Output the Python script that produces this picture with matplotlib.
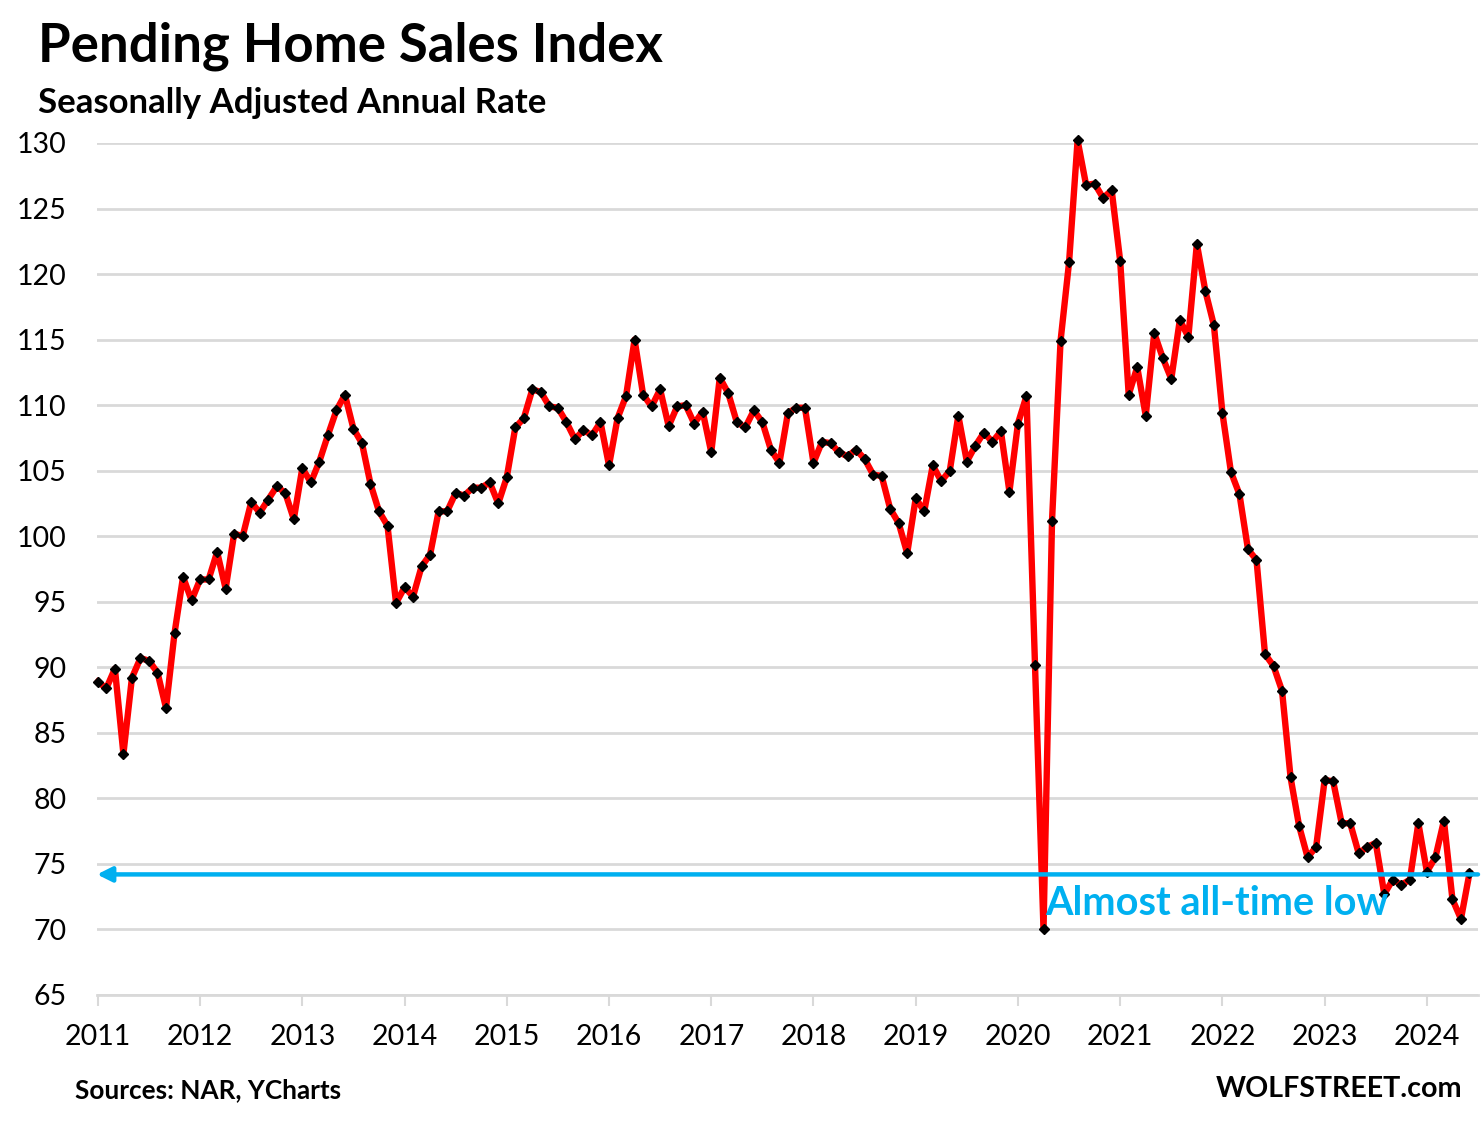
################################################################################
# Pending Home Sales Index chart
################################################################################

import numpy as np
import pandas as pd
import matplotlib.pyplot as plt

# Monthly index values, Jan 2011 - Jun 2024
y2011 = [88.9, 88.4, 89.9, 83.4, 89.2, 90.7, 90.5, 89.6, 86.9, 92.6, 96.9, 95.1]
y2012 = [96.7, 96.7, 98.8, 96.0, 100.2, 100.0, 102.6, 101.8, 102.8, 103.8, 103.3, 101.3]
y2013 = [105.2, 104.1, 105.7, 107.7, 109.6, 110.8, 108.2, 107.1, 104.0, 101.9, 100.8, 94.9]
y2014 = [96.1, 95.4, 97.7, 98.6, 101.9, 101.9, 103.3, 103.1, 103.7, 103.7, 104.1, 102.5]
y2015 = [104.5, 108.3, 109.0, 111.2, 111.0, 109.9, 109.8, 108.7, 107.4, 108.1, 107.7, 108.7]
y2016 = [105.4, 109.0, 110.7, 115.0, 110.8, 109.9, 111.2, 108.4, 109.9, 110.0, 108.6, 109.5]
y2017 = [106.4, 112.1, 110.9, 108.7, 108.3, 109.6, 108.7, 106.6, 105.6, 109.4, 109.8, 109.8]
y2018 = [105.6, 107.2, 107.1, 106.4, 106.1, 106.6, 105.9, 104.7, 104.6, 102.1, 101.0, 98.7]
y2019 = [102.9, 101.9, 105.4, 104.2, 105.0, 109.2, 105.7, 106.9, 107.9, 107.2, 108.0, 103.4]
y2020 = [108.6, 110.7, 90.2, 70.0, 101.2, 114.9, 120.9, 130.2, 126.8, 126.9, 125.8, 126.4]
y2021 = [121.0, 110.8, 112.9, 109.2, 115.5, 113.6, 112.0, 116.5, 115.2, 122.3, 118.7, 116.1]
y2022 = [109.4, 104.9, 103.2, 99.0, 98.2, 91.0, 90.1, 88.2, 81.6, 77.9, 75.5, 76.3]
y2023 = [81.4, 81.3, 78.1, 78.1, 75.8, 76.3, 76.6, 72.7, 73.8, 73.4, 73.8, 78.1]
y2024 = [74.4, 75.5, 78.3, 72.3, 70.8, 74.3]

years = list(range(2011, 2025))
low_level = 74.2

index_values = (y2011 + y2012 + y2013 + y2014 + y2015 + y2016 + y2017 + y2018
                + y2019 + y2020 + y2021 + y2022 + y2023 + y2024)
dates = pd.date_range('2011-01-01', periods=len(index_values), freq='MS')
months = np.arange(len(dates))  # month number since Jan 2011

# Fonts (Lato is close to Calibri)
plt.rcParams['font.family'] = ['Lato', 'DejaVu Sans']

fig = plt.figure(figsize=(14.82, 11.23), dpi=100)
ax = fig.add_axes([97 / 1482, 128 / 1123, 1381 / 1482, 852 / 1123])

# Grid and axes styling
grid_color = '#D9D9D9'
ax.set_ylim(65, 130)
ax.set_xlim(-0.1, 162)
ax.set_yticks(range(65, 131, 5))
ax.yaxis.grid(True, color=grid_color, linewidth=2)
ax.set_axisbelow(True)
for side in ['top', 'right', 'left']:
    ax.spines[side].set_visible(False)
ax.spines['bottom'].set_color(grid_color)
ax.spines['bottom'].set_linewidth(2)
ax.tick_params(axis='y', length=0, pad=22, labelsize=20.5)
ax.set_xticks([12 * (yr - 2011) for yr in years])
ax.set_xticklabels([str(yr) for yr in years])
ax.tick_params(axis='x', length=8, width=1.5, color=grid_color, pad=13, labelsize=20.5)

# Main series
ax.plot(months, index_values, color='red', linewidth=4.6, zorder=3,
        marker='D', markersize=5.5, markerfacecolor='black', markeredgecolor='black',
        clip_on=False)

# "Almost all-time low" arrow
blue = '#00B0F0'
ax.annotate('', xy=(-0.1, low_level), xytext=(162, low_level),
            arrowprops=dict(arrowstyle='-|>', color=blue, lw=3.2,
                            mutation_scale=22, shrinkA=0, shrinkB=0),
            zorder=4, annotation_clip=False)
ax.text(111.2, 72.0, 'Almost all-time low', color=blue, fontsize=28.5,
        fontweight='bold', ha='left', va='center', zorder=5)

# Titles and footers
fig.text(38 / 1482, 1 - 46 / 1123, 'Pending Home Sales Index', fontsize=38,
         fontweight='bold', ha='left', va='center')
fig.text(38 / 1482, 1 - 103 / 1123, 'Seasonally Adjusted Annual Rate', fontsize=25,
         fontweight='bold', ha='left', va='center')
fig.text(75 / 1482, 1 - 1090 / 1123, 'Sources: NAR, YCharts', fontsize=18.8,
         fontweight='bold', ha='left', va='center')
fig.text(1462 / 1482, 1 - 1089 / 1123, 'WOLFSTREET.com', fontsize=20.6,
         fontweight='bold', ha='right', va='center')

plt.savefig('out.png', dpi=100)
